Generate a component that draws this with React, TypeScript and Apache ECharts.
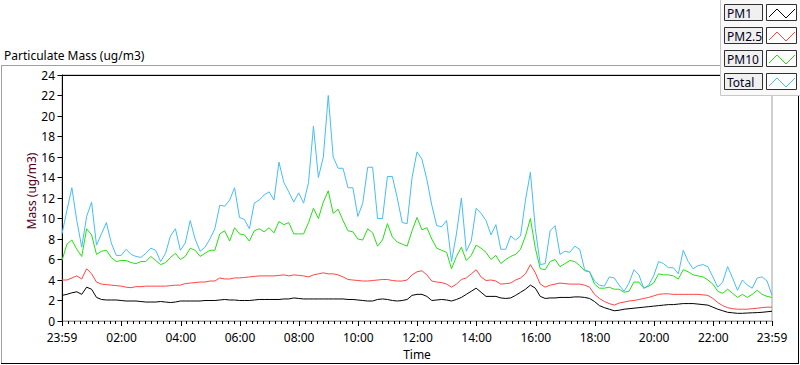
import React, { useEffect, useRef } from "react";
import * as echarts from "echarts";

// Samples every 10 minutes, starting at 23:59 (minute -1) and ending at 23:59 (minute 1439)
const START_MIN = -1;
const STEP_MIN = 10;

const pm1 = [
  2.5, 2.6, 2.75, 2.85, 2.6, 3.3, 3.1, 2.3, 2.1, 2.05,
  2.05, 2.05, 2.0, 1.95, 1.95, 1.95, 1.9, 1.85, 1.85, 1.85,
  1.9, 1.85, 1.8, 1.85, 1.95, 1.95, 1.95, 1.95, 1.95, 2.0,
  2.0, 2.0, 2.05, 2.1, 2.05, 2.05, 2.0, 2.0, 2.0, 2.05,
  2.1, 2.1, 2.1, 2.1, 2.1, 2.15, 2.15, 2.25, 2.2, 2.15,
  2.15, 2.15, 2.15, 2.15, 2.15, 2.15, 2.15, 2.15, 2.1, 2.1,
  2.05, 2.0, 1.95, 1.95, 2.1, 2.15, 2.1, 2.0, 1.95, 2.0,
  2.1, 2.5, 2.6, 2.6, 2.4, 2.0, 2.05, 2.1, 2.05, 1.95,
  2.1, 2.3, 2.6, 2.9, 3.2, 2.8, 2.4, 2.4, 2.4, 2.25,
  2.2, 2.25, 2.5, 2.8, 3.1, 3.5, 3.2, 2.4, 2.2, 2.25,
  2.25, 2.3, 2.3, 2.3, 2.35, 2.35, 2.3, 2.2, 1.9, 1.5,
  1.3, 1.15, 1.0, 1.05, 1.15, 1.2, 1.25, 1.3, 1.35, 1.4,
  1.45, 1.5, 1.55, 1.6, 1.6, 1.65, 1.7, 1.7, 1.7, 1.65,
  1.6, 1.55, 1.35, 1.15, 1.0, 0.85, 0.8, 0.75, 0.75, 0.78,
  0.8, 0.82, 0.85, 0.9, 0.95,
];

const pm25 = [
  4.0, 4.0, 4.2, 4.4, 4.1, 5.1, 4.6, 3.8, 3.6, 3.55,
  3.5, 3.45, 3.4, 3.3, 3.25, 3.35, 3.35, 3.4, 3.4, 3.4,
  3.4, 3.4, 3.45, 3.5, 3.5, 3.65, 3.7, 3.75, 3.8, 3.8,
  3.9, 3.9, 4.2, 4.1, 4.1, 4.2, 4.2, 4.25, 4.3, 4.35,
  4.4, 4.4, 4.4, 4.4, 4.45, 4.5, 4.4, 4.5, 4.45, 4.4,
  4.3, 4.5, 4.6, 4.7, 4.6, 4.6, 4.5, 4.3, 4.05, 4.0,
  3.95, 3.9, 3.9, 3.95, 4.0, 4.05, 4.05, 3.95, 3.9, 3.9,
  4.0, 4.5, 4.8, 4.9, 4.5, 3.9, 3.8, 3.75, 3.6, 3.3,
  3.6, 4.05, 4.2, 4.6, 5.0, 4.3, 3.95, 4.0, 3.9, 3.6,
  3.65, 3.7, 4.0, 4.2, 4.6, 5.5, 4.7, 3.6, 3.3, 3.5,
  3.6, 3.7, 3.65, 3.6, 3.6, 3.6, 3.5, 3.3, 2.6, 2.2,
  1.9, 1.7, 1.55, 1.75, 1.85, 1.95, 2.0, 2.1, 2.2, 2.3,
  2.45, 2.6, 2.65, 2.65, 2.6, 2.6, 2.6, 2.6, 2.6, 2.6,
  2.55, 2.5, 2.2, 1.8, 1.5, 1.3, 1.2, 1.15, 1.15, 1.15,
  1.2, 1.25, 1.3, 1.35, 1.35,
];

const pm10 = [
  5.9, 7.5, 7.9, 7.0, 6.3, 9.0, 8.4, 6.5, 6.8, 6.9,
  6.2, 5.8, 5.9, 5.9, 5.7, 5.6, 5.8, 5.8, 6.3, 5.9,
  5.5, 5.7, 6.2, 6.6, 6.0, 6.3, 7.1, 6.9, 6.3, 6.6,
  6.9, 6.9, 8.5, 8.8, 7.8, 9.1, 8.5, 8.4, 7.8, 8.8,
  9.0, 8.7, 9.1, 8.6, 9.7, 9.4, 9.6, 8.5, 8.5, 8.5,
  9.6, 11.0, 10.0, 11.6, 12.7, 10.5, 10.9, 9.8, 8.8, 8.7,
  8.0, 7.9, 9.0, 8.6, 7.3, 7.9, 9.5, 8.2, 7.7, 7.5,
  7.3, 8.8, 10.1, 8.9, 9.1, 8.0, 7.1, 6.9, 6.7, 5.1,
  6.3, 7.2, 5.9, 6.4, 7.4, 7.1, 6.7, 6.0, 6.4, 5.6,
  6.0, 6.3, 6.5, 7.0, 8.3, 10.0, 7.1, 5.1, 5.0, 5.8,
  6.0, 5.3, 5.6, 5.9, 5.8, 5.4, 4.9, 4.8, 3.6, 3.2,
  3.2, 3.3, 3.1, 3.1, 2.8, 2.9, 3.8, 3.8, 3.2, 3.4,
  3.7, 4.6, 4.5, 4.5, 4.4, 4.1, 5.0, 4.8, 4.5, 4.4,
  4.3, 4.0, 3.6, 2.9, 2.7, 3.1, 2.7, 2.3, 2.6, 2.3,
  2.6, 3.0, 2.6, 2.4, 2.3,
];

const total = [
  8.5, 10.8, 13.0, 9.8, 7.2, 10.2, 11.6, 7.4, 8.5, 9.6,
  7.6, 6.4, 6.4, 7.0, 6.5, 6.3, 6.2, 6.6, 7.1, 6.9,
  5.8, 6.6, 8.3, 9.0, 6.9, 7.6, 9.8, 8.0, 6.8, 7.2,
  8.0, 9.0, 11.3, 11.2, 11.8, 13.0, 10.1, 9.9, 9.0, 11.5,
  11.8, 12.3, 12.6, 11.8, 15.5, 13.5, 12.6, 11.6, 12.5, 11.5,
  13.5, 19.0, 14.0, 16.0, 22.0, 16.0, 14.9, 14.9, 13.0, 13.0,
  10.2, 11.5, 15.0, 15.0, 10.0, 10.0, 14.1, 14.1, 12.0, 9.6,
  9.5, 14.0, 16.5, 15.8, 13.8, 11.3, 9.3, 9.2, 9.8, 5.8,
  8.5, 12.0, 6.8, 7.8, 11.0, 10.5, 9.8, 8.4, 9.4, 7.0,
  7.0, 8.3, 7.9, 8.3, 11.8, 14.5, 9.0, 5.5, 5.6, 8.8,
  9.3, 6.5, 6.8, 6.7, 7.3, 7.0, 5.0, 4.8, 3.9, 3.5,
  3.4, 4.3, 4.2, 3.5, 2.9, 3.7, 5.0, 4.5, 3.2, 3.5,
  4.4, 5.8, 5.6, 5.2, 5.2, 4.6, 6.9, 5.8, 5.1, 5.4,
  5.5, 5.3, 4.3, 3.3, 3.8, 5.3, 4.2, 3.0, 4.0, 3.5,
  3.2, 4.2, 4.3, 3.9, 2.5,
];

const seriesNames = ["PM1", "PM2.5", "PM10", "Total"];
const seriesValues = [pm1, pm25, pm10, total];
const seriesColors = ["#000000", "#ff4444", "#22e010", "#45bdf8"];

const xMajorTicks = [-1, 120, 240, 360, 480, 600, 720, 840, 960, 1080, 1200, 1320, 1439];
const xMajorLabels = [
  "23:59", "02:00", "04:00", "06:00", "08:00", "10:00", "12:00",
  "14:00", "16:00", "18:00", "20:00", "22:00", "23:59",
];

const FONT = '"Noto Sans", sans-serif';

export default function App() {
  const ref = useRef<HTMLDivElement>(null);

  useEffect(() => {
    if (!ref.current) return;
    const chart = echarts.init(ref.current, null, { renderer: "svg" });

    const minorTicks: number[] = [];
    for (let m = 0; m <= 1428; m += 12) minorTicks.push(m);

    const toPairs = (arr: number[]) => arr.map((v, i) => [START_MIN + i * STEP_MIN, v]);

    const legendRows: any[] = [];
    seriesNames.forEach((name, i) => {
      const y0 = 4 + 23 * i;
      legendRows.push(
        {
          type: "rect",
          shape: { x: 724.5, y: y0 + 0.5, width: 38, height: 16 },
          style: { fill: "#f0f0f0", stroke: "#303030", lineWidth: 1 },
          z: 101,
        },
        {
          type: "text",
          x: 727,
          y: y0 + 9,
          style: {
            text: name,
            fill: "#000022",
            font: `12px ${FONT}`,
            textVerticalAlign: "middle",
          },
          z: 102,
        },
        {
          type: "rect",
          shape: { x: 766.5, y: y0 + 0.5, width: 30, height: 16 },
          style: { fill: "#ffffff", stroke: "#303030", lineWidth: 1 },
          z: 101,
        },
        {
          type: "polyline",
          shape: {
            points: [
              [769, y0 + 13],
              [777, y0 + 5],
              [786, y0 + 14],
              [795, y0 + 5],
            ],
          },
          style: { stroke: seriesColors[i], lineWidth: 1, fill: null },
          z: 102,
        }
      );
    });

    const option: any = {
      animation: false,
      backgroundColor: "#ffffff",
      textStyle: { fontFamily: FONT },
      grid: {
        left: 62,
        right: 28,
        top: 75,
        bottom: 43,
        show: true,
        borderColor: "#a0a0a0",
        borderWidth: 1,
        backgroundColor: "#ffffff",
      },
      xAxis: [
        {
          type: "value",
          min: -1,
          max: 1439,
          position: "bottom",
          name: "Time",
          nameLocation: "middle",
          nameGap: 27,
          nameMoveOverlap: false,
          nameTextStyle: { color: "#000000", fontSize: 12, lineHeight: 12, fontFamily: FONT },
          axisLine: { show: true, lineStyle: { color: "#a0a0a0", width: 1 } },
          axisTick: {
            show: true,
            customValues: xMajorTicks,
            length: 5,
            lineStyle: { color: "#000000" },
          },
          axisLabel: {
            customValues: xMajorTicks,
            formatter: (v: number) => {
              const idx = xMajorTicks.indexOf(v);
              return idx >= 0 ? xMajorLabels[idx] : "";
            },
            margin: 10,
            lineHeight: 12,
            color: "#000000",
            fontSize: 12,
            fontFamily: FONT,
            showMinLabel: true,
            showMaxLabel: true,
          },
          splitLine: { show: false },
        },
        {
          type: "value",
          min: -1,
          max: 1439,
          position: "bottom",
          axisLine: { show: false },
          axisTick: {
            show: true,
            customValues: minorTicks,
            length: 3,
            lineStyle: { color: "#000000" },
          },
          axisLabel: { show: false },
          splitLine: { show: false },
        },
        {
          type: "value",
          min: -1,
          max: 1439,
          position: "top",
          axisLine: { show: true, lineStyle: { color: "#000000", width: 1 } },
          axisTick: { show: false },
          axisLabel: { show: false },
          splitLine: { show: false },
        },
      ],
      yAxis: {
        type: "value",
        min: 0,
        max: 24,
        interval: 2,
        name: "Mass (ug/m3)",
        nameLocation: "middle",
        nameGap: 25,
        nameRotate: 90,
        nameMoveOverlap: false,
        nameTextStyle: {
          color: "#500020",
          fontSize: 12,
          fontFamily: FONT,
          padding: [0, 0, 0, 14],
        },
        axisLine: { show: true, lineStyle: { color: "#000000", width: 1 } },
        axisTick: { show: true, length: 5, lineStyle: { color: "#000000" } },
        axisLabel: { margin: 7, lineHeight: 11, color: "#000000", fontSize: 12, fontFamily: FONT },
        splitLine: { show: false },
      },
      series: seriesNames.map((name, i) => ({
        type: "line",
        name,
        data: toPairs(seriesValues[i]),
        xAxisIndex: 0,
        yAxisIndex: 0,
        showSymbol: false,
        symbol: "none",
        silent: true,
        lineStyle: { color: seriesColors[i], width: 1 },
        itemStyle: { color: seriesColors[i] },
      })),
      graphic: [
        // outer frame
        { type: "line", shape: { x1: 1, y1: 65.5, x2: 799, y2: 65.5 }, style: { stroke: "#a0a0a0", lineWidth: 1 }, z: 50 },
        { type: "line", shape: { x1: 1.5, y1: 65, x2: 1.5, y2: 364 }, style: { stroke: "#a0a0a0", lineWidth: 1 }, z: 50 },
        { type: "line", shape: { x1: 1, y1: 363.5, x2: 799, y2: 363.5 }, style: { stroke: "#000000", lineWidth: 1 }, z: 50 },
        { type: "line", shape: { x1: 798.5, y1: 65, x2: 798.5, y2: 364 }, style: { stroke: "#000000", lineWidth: 1 }, z: 50 },
        // title
        {
          type: "text",
          x: 4,
          y: 55,
          style: {
            text: "Particulate Mass (ug/m3)",
            fill: "#000000",
            font: `12px ${FONT}`,
            textVerticalAlign: "middle",
          },
          z: 50,
        },
        // legend panel
        {
          type: "rect",
          shape: { x: 720.5, y: -1, width: 82, height: 96.5 },
          style: { fill: "#f9f9f9", stroke: "#c8c8c8", lineWidth: 1 },
          z: 100,
        },
        ...legendRows,
      ],
    };

    chart.setOption(option);
    return () => chart.dispose();
  }, []);

  return (
    <div
      ref={ref}
      style={{ position: "fixed", left: 0, top: 0, width: 800, height: 365, background: "#ffffff" }}
    />
  );
}
